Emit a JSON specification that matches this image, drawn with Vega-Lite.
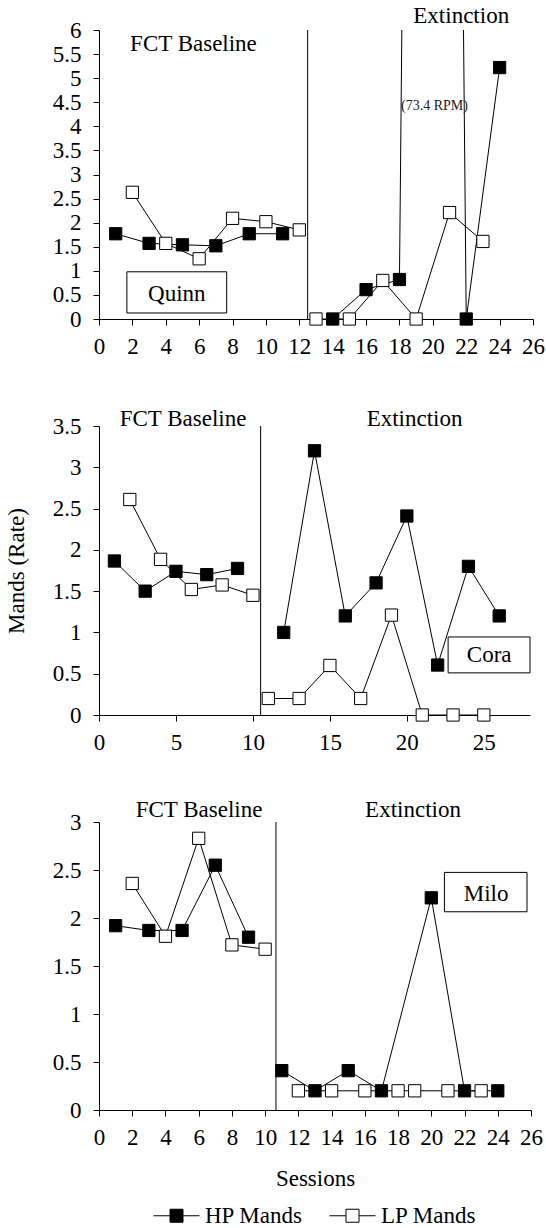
{
  "$schema": "https://vega.github.io/schema/vega-lite/v6.json",
  "background": "white",
  "padding": {"left": 5, "top": 5, "right": 0, "bottom": 0},
  "bounds": "flush",
  "spacing": 107,
  "config": {
    "font": "Liberation Serif",
    "view": {"stroke": null},
    "axis": {
      "domainColor": "black", "tickColor": "black", "labelColor": "black", "titleColor": "black",
      "labelFont": "Liberation Serif", "titleFont": "Liberation Serif",
      "labelFontSize": 23, "titleFontSize": 23, "titleFontWeight": "normal",
      "grid": false, "tickSize": 6, "labelOverlap": false, "labelFlush": false, "labelBound": false,
      "domainWidth": 1, "tickWidth": 1
    },
    "legend": {
      "layout": {"bottom": {"anchor": "middle"}},
      "labelFont": "Liberation Serif", "labelFontSize": 23, "labelColor": "black"
    }
  },
  "datasets": {
    "mands": [
      {"panel": "Quinn", "series": "HP Mands", "phase": "B", "session": 1, "value": 1.77},
      {"panel": "Quinn", "series": "HP Mands", "phase": "B", "session": 3, "value": 1.57},
      {"panel": "Quinn", "series": "HP Mands", "phase": "B", "session": 5, "value": 1.54},
      {"panel": "Quinn", "series": "HP Mands", "phase": "B", "session": 7, "value": 1.52},
      {"panel": "Quinn", "series": "HP Mands", "phase": "B", "session": 9, "value": 1.77},
      {"panel": "Quinn", "series": "HP Mands", "phase": "B", "session": 11, "value": 1.77},
      {"panel": "Quinn", "series": "HP Mands", "phase": "E", "session": 14, "value": 0},
      {"panel": "Quinn", "series": "HP Mands", "phase": "E", "session": 16, "value": 0.61},
      {"panel": "Quinn", "series": "HP Mands", "phase": "E", "session": 18, "value": 0.82},
      {"panel": "Quinn", "series": "HP Mands", "phase": "E", "session": 20, "value": 73.4},
      {"panel": "Quinn", "series": "HP Mands", "phase": "E", "session": 22, "value": 0},
      {"panel": "Quinn", "series": "HP Mands", "phase": "E", "session": 24, "value": 5.22},
      {"panel": "Quinn", "series": "LP Mands", "phase": "B", "session": 2, "value": 2.63},
      {"panel": "Quinn", "series": "LP Mands", "phase": "B", "session": 4, "value": 1.57},
      {"panel": "Quinn", "series": "LP Mands", "phase": "B", "session": 6, "value": 1.25},
      {"panel": "Quinn", "series": "LP Mands", "phase": "B", "session": 8, "value": 2.09},
      {"panel": "Quinn", "series": "LP Mands", "phase": "B", "session": 10, "value": 2.02},
      {"panel": "Quinn", "series": "LP Mands", "phase": "B", "session": 12, "value": 1.85},
      {"panel": "Quinn", "series": "LP Mands", "phase": "E", "session": 13, "value": 0},
      {"panel": "Quinn", "series": "LP Mands", "phase": "E", "session": 15, "value": 0},
      {"panel": "Quinn", "series": "LP Mands", "phase": "E", "session": 17, "value": 0.8},
      {"panel": "Quinn", "series": "LP Mands", "phase": "E", "session": 19, "value": 0},
      {"panel": "Quinn", "series": "LP Mands", "phase": "E", "session": 21, "value": 2.21},
      {"panel": "Quinn", "series": "LP Mands", "phase": "E", "session": 23, "value": 1.61},

      {"panel": "Cora", "series": "HP Mands", "phase": "B", "session": 1, "value": 1.865},
      {"panel": "Cora", "series": "HP Mands", "phase": "B", "session": 3, "value": 1.5},
      {"panel": "Cora", "series": "HP Mands", "phase": "B", "session": 5, "value": 1.74},
      {"panel": "Cora", "series": "HP Mands", "phase": "B", "session": 7, "value": 1.7},
      {"panel": "Cora", "series": "HP Mands", "phase": "B", "session": 9, "value": 1.775},
      {"panel": "Cora", "series": "HP Mands", "phase": "E", "session": 12, "value": 1.0},
      {"panel": "Cora", "series": "HP Mands", "phase": "E", "session": 14, "value": 3.2},
      {"panel": "Cora", "series": "HP Mands", "phase": "E", "session": 16, "value": 1.2},
      {"panel": "Cora", "series": "HP Mands", "phase": "E", "session": 18, "value": 1.6},
      {"panel": "Cora", "series": "HP Mands", "phase": "E", "session": 20, "value": 2.41},
      {"panel": "Cora", "series": "HP Mands", "phase": "E", "session": 22, "value": 0.605},
      {"panel": "Cora", "series": "HP Mands", "phase": "E", "session": 24, "value": 1.8},
      {"panel": "Cora", "series": "HP Mands", "phase": "E", "session": 26, "value": 1.2},
      {"panel": "Cora", "series": "LP Mands", "phase": "B", "session": 2, "value": 2.61},
      {"panel": "Cora", "series": "LP Mands", "phase": "B", "session": 4, "value": 1.885},
      {"panel": "Cora", "series": "LP Mands", "phase": "B", "session": 6, "value": 1.52},
      {"panel": "Cora", "series": "LP Mands", "phase": "B", "session": 8, "value": 1.575},
      {"panel": "Cora", "series": "LP Mands", "phase": "B", "session": 10, "value": 1.45},
      {"panel": "Cora", "series": "LP Mands", "phase": "E", "session": 11, "value": 0.2},
      {"panel": "Cora", "series": "LP Mands", "phase": "E", "session": 13, "value": 0.2},
      {"panel": "Cora", "series": "LP Mands", "phase": "E", "session": 15, "value": 0.6},
      {"panel": "Cora", "series": "LP Mands", "phase": "E", "session": 17, "value": 0.2},
      {"panel": "Cora", "series": "LP Mands", "phase": "E", "session": 19, "value": 1.21},
      {"panel": "Cora", "series": "LP Mands", "phase": "E", "session": 21, "value": 0},
      {"panel": "Cora", "series": "LP Mands", "phase": "E", "session": 23, "value": 0},
      {"panel": "Cora", "series": "LP Mands", "phase": "E", "session": 25, "value": 0},

      {"panel": "Milo", "series": "HP Mands", "phase": "B", "session": 1, "value": 1.92},
      {"panel": "Milo", "series": "HP Mands", "phase": "B", "session": 3, "value": 1.87},
      {"panel": "Milo", "series": "HP Mands", "phase": "B", "session": 5, "value": 1.87},
      {"panel": "Milo", "series": "HP Mands", "phase": "B", "session": 7, "value": 2.55},
      {"panel": "Milo", "series": "HP Mands", "phase": "B", "session": 9, "value": 1.8},
      {"panel": "Milo", "series": "HP Mands", "phase": "E", "session": 11, "value": 0.41},
      {"panel": "Milo", "series": "HP Mands", "phase": "E", "session": 13, "value": 0.2},
      {"panel": "Milo", "series": "HP Mands", "phase": "E", "session": 15, "value": 0.41},
      {"panel": "Milo", "series": "HP Mands", "phase": "E", "session": 17, "value": 0.2},
      {"panel": "Milo", "series": "HP Mands", "phase": "E", "session": 20, "value": 2.21},
      {"panel": "Milo", "series": "HP Mands", "phase": "E", "session": 22, "value": 0.2},
      {"panel": "Milo", "series": "HP Mands", "phase": "E", "session": 24, "value": 0.2},
      {"panel": "Milo", "series": "LP Mands", "phase": "B", "session": 2, "value": 2.36},
      {"panel": "Milo", "series": "LP Mands", "phase": "B", "session": 4, "value": 1.81},
      {"panel": "Milo", "series": "LP Mands", "phase": "B", "session": 6, "value": 2.83},
      {"panel": "Milo", "series": "LP Mands", "phase": "B", "session": 8, "value": 1.72},
      {"panel": "Milo", "series": "LP Mands", "phase": "B", "session": 10, "value": 1.675},
      {"panel": "Milo", "series": "LP Mands", "phase": "E", "session": 12, "value": 0.2},
      {"panel": "Milo", "series": "LP Mands", "phase": "E", "session": 14, "value": 0.2},
      {"panel": "Milo", "series": "LP Mands", "phase": "E", "session": 16, "value": 0.2},
      {"panel": "Milo", "series": "LP Mands", "phase": "E", "session": 18, "value": 0.2},
      {"panel": "Milo", "series": "LP Mands", "phase": "E", "session": 19, "value": 0.2},
      {"panel": "Milo", "series": "LP Mands", "phase": "E", "session": 21, "value": 0.2},
      {"panel": "Milo", "series": "LP Mands", "phase": "E", "session": 23, "value": 0.2}
    ],
    "phases": [
      {"panel": "Quinn", "session": 12.5},
      {"panel": "Cora", "session": 10.5},
      {"panel": "Milo", "session": 10.65}
    ],
    "boxes": [
      {"panel": "Quinn", "session": 1.67, "session2": 7.65, "value": 0.125, "value2": 0.98},
      {"panel": "Cora", "session": 22.68, "session2": 28, "value": 0.51, "value2": 0.945},
      {"panel": "Milo", "session": 20.79, "session2": 25.76, "value": 2.065, "value2": 2.475}
    ],
    "notes": [
      {"panel": "Quinn", "kind": "big", "text": "Quinn", "session": 4.66, "value": 0.37},
      {"panel": "Quinn", "kind": "big", "text": "FCT Baseline", "session": 5.66, "value": 5.57},
      {"panel": "Quinn", "kind": "big", "text": "Extinction", "session": 21.7, "value": 6.14},
      {"panel": "Quinn", "kind": "small", "text": "(73.4 RPM)", "session": 20.1, "value": 4.33},
      {"panel": "Cora", "kind": "big", "text": "Cora", "session": 25.35, "value": 0.645},
      {"panel": "Cora", "kind": "big", "text": "FCT Baseline", "session": 5.46, "value": 3.5},
      {"panel": "Cora", "kind": "big", "text": "Extinction", "session": 20.5, "value": 3.5},
      {"panel": "Milo", "kind": "big", "text": "Milo", "session": 23.3, "value": 2.18},
      {"panel": "Milo", "kind": "big", "text": "FCT Baseline", "session": 6.02, "value": 3.05},
      {"panel": "Milo", "kind": "big", "text": "Extinction", "session": 18.9, "value": 3.05}
    ]
  },
  "resolve": {"scale": {"fill": "independent"}, "legend": {"fill": "independent"}},
  "vconcat": [
    {
      "width": 434, "height": 289,
      "encoding": {
        "x": {"field": "session", "type": "quantitative", "title": null,
          "scale": {"domain": [0, 26], "nice": false, "zero": false},
          "axis": {"values": [0,2,4,6,8,10,12,14,16,18,20,22,24,26], "labelOverlap": false, "labelFlush": false, "labelBound": false, "labelPadding": 10, "tickSize": 6, "labelFontSize": 23, "labelFont": "Liberation Serif", "grid": false}},
        "y": {"field": "value", "type": "quantitative", "title": null,
          "scale": {"domain": [0, 6], "nice": false, "zero": false},
          "axis": {"values": [0,0.5,1,1.5,2,2.5,3,3.5,4,4.5,5,5.5,6], "format": "~g", "labelOverlap": false, "labelBound": false, "labelPadding": 12, "tickSize": 6, "labelFontSize": 23, "labelFont": "Liberation Serif", "grid": false}}
      },
      "layer": [
        {"data": {"name": "phases"}, "transform": [{"filter": "datum.panel === 'Quinn'"}],
         "mark": {"type": "rule", "color": "black", "strokeWidth": 1},
         "encoding": {"y": null}},
        {"data": {"name": "mands"}, "transform": [{"filter": "datum.panel === 'Quinn'"}],
         "mark": {"type": "line", "color": "black", "strokeWidth": 1, "clip": true},
         "encoding": {"detail": [{"field": "series"}, {"field": "phase"}]}},
        {"data": {"name": "boxes"}, "transform": [{"filter": "datum.panel === 'Quinn'"}],
         "mark": {"type": "rect", "fill": "white", "stroke": "black", "strokeWidth": 1},
         "encoding": {"x2": {"field": "session2"}, "y2": {"field": "value2"}}},
        {"data": {"name": "mands"}, "transform": [{"filter": "datum.panel === 'Quinn' && datum.value <= 6"}],
         "mark": {"type": "point", "shape": "square", "size": 150, "filled": true, "stroke": "black", "strokeWidth": 1, "opacity": 1},
         "encoding": {
           "fill": {"field": "series", "type": "nominal", "scale": {"domain": ["HP Mands", "LP Mands"], "range": ["black", "white"]}, "legend": null}}},
        {"data": {"name": "notes"}, "transform": [{"filter": "datum.panel === 'Quinn' && datum.kind === 'big'"}],
         "mark": {"type": "text", "font": "Liberation Serif", "fontSize": 23, "color": "black", "baseline": "alphabetic", "align": "center"},
         "encoding": {"text": {"field": "text"}}},
        {"data": {"name": "notes"}, "transform": [{"filter": "datum.panel === 'Quinn' && datum.kind === 'small'"}],
         "mark": {"type": "text", "font": "Liberation Serif", "fontSize": 14, "color": "#222222", "baseline": "alphabetic", "align": "center"},
         "encoding": {"text": {"field": "text"}}}
      ]
    },
    {
      "width": 431, "height": 289,
      "encoding": {
        "x": {"field": "session", "type": "quantitative", "title": null,
          "scale": {"domain": [0, 28], "nice": false, "zero": false},
          "axis": {"values": [0,5,10,15,20,25], "labelOverlap": false, "labelFlush": false, "labelBound": false, "labelPadding": 10, "tickSize": 6, "labelFontSize": 23, "labelFont": "Liberation Serif", "grid": false}},
        "y": {"field": "value", "type": "quantitative", "title": "Mands (Rate)",
          "scale": {"domain": [0, 3.5], "nice": false, "zero": false},
          "axis": {"values": [0,0.5,1,1.5,2,2.5,3,3.5], "format": "~g", "labelOverlap": false, "labelBound": false, "labelPadding": 12, "tickSize": 6, "labelFontSize": 23, "labelFont": "Liberation Serif", "grid": false, "titleFont": "Liberation Serif", "titleFontSize": 23, "titleFontWeight": "normal", "titlePadding": 24}}
      },
      "layer": [
        {"data": {"name": "phases"}, "transform": [{"filter": "datum.panel === 'Cora'"}],
         "mark": {"type": "rule", "color": "black", "strokeWidth": 1},
         "encoding": {"y": null}},
        {"data": {"name": "mands"}, "transform": [{"filter": "datum.panel === 'Cora'"}],
         "mark": {"type": "line", "color": "black", "strokeWidth": 1, "clip": true},
         "encoding": {"detail": [{"field": "series"}, {"field": "phase"}]}},
        {"data": {"name": "boxes"}, "transform": [{"filter": "datum.panel === 'Cora'"}],
         "mark": {"type": "rect", "fill": "white", "stroke": "black", "strokeWidth": 1},
         "encoding": {"x2": {"field": "session2"}, "y2": {"field": "value2"}}},
        {"data": {"name": "mands"}, "transform": [{"filter": "datum.panel === 'Cora'"}],
         "mark": {"type": "point", "shape": "square", "size": 150, "filled": true, "stroke": "black", "strokeWidth": 1, "opacity": 1},
         "encoding": {
           "fill": {"field": "series", "type": "nominal", "scale": {"domain": ["HP Mands", "LP Mands"], "range": ["black", "white"]}, "legend": null}}},
        {"data": {"name": "notes"}, "transform": [{"filter": "datum.panel === 'Cora'"}],
         "mark": {"type": "text", "font": "Liberation Serif", "fontSize": 23, "color": "black", "baseline": "alphabetic", "align": "center"},
         "encoding": {"text": {"field": "text"}}}
      ]
    },
    {
      "width": 432, "height": 288,
      "encoding": {
        "x": {"field": "session", "type": "quantitative", "title": "Sessions",
          "scale": {"domain": [0, 26], "nice": false, "zero": false},
          "axis": {"values": [0,2,4,6,8,10,12,14,16,18,20,22,24,26], "labelOverlap": false, "labelFlush": false, "labelBound": false, "labelPadding": 10, "tickSize": 6, "labelFontSize": 23, "labelFont": "Liberation Serif", "grid": false, "titleFont": "Liberation Serif", "titleFontSize": 23, "titleFontWeight": "normal", "titlePadding": 18}},
        "y": {"field": "value", "type": "quantitative", "title": null,
          "scale": {"domain": [0, 3], "nice": false, "zero": false},
          "axis": {"values": [0,0.5,1,1.5,2,2.5,3], "format": "~g", "labelOverlap": false, "labelBound": false, "labelPadding": 12, "tickSize": 6, "labelFontSize": 23, "labelFont": "Liberation Serif", "grid": false}}
      },
      "layer": [
        {"data": {"name": "phases"}, "transform": [{"filter": "datum.panel === 'Milo'"}],
         "mark": {"type": "rule", "color": "black", "strokeWidth": 1},
         "encoding": {"y": null}},
        {"data": {"name": "mands"}, "transform": [{"filter": "datum.panel === 'Milo'"}],
         "mark": {"type": "line", "color": "black", "strokeWidth": 1, "clip": true},
         "encoding": {"detail": [{"field": "series"}, {"field": "phase"}]}},
        {"data": {"name": "boxes"}, "transform": [{"filter": "datum.panel === 'Milo'"}],
         "mark": {"type": "rect", "fill": "white", "stroke": "black", "strokeWidth": 1},
         "encoding": {"x2": {"field": "session2"}, "y2": {"field": "value2"}}},
        {"data": {"name": "mands"}, "transform": [{"filter": "datum.panel === 'Milo'"}],
         "mark": {"type": "point", "shape": "square", "size": 150, "filled": true, "stroke": "black", "strokeWidth": 1, "opacity": 1},
         "encoding": {
           "fill": {"field": "series", "type": "nominal", "scale": {"domain": ["HP Mands", "LP Mands"], "range": ["black", "white"]},
             "legend": {"orient": "bottom", "direction": "horizontal", "title": null,
               "symbolType": "M-1,0H-0.283M0.283,0H1M-0.283,-0.283H0.283V0.283H-0.283Z",
               "symbolSize": 2116, "symbolStrokeColor": "black", "symbolStrokeWidth": 1, "symbolOpacity": 1,
               "labelFont": "Liberation Serif", "labelFontSize": 23, "labelColor": "black",
               "labelOffset": 5, "columnPadding": 24, "padding": 0, "offset": 2, "labelLimit": 0}}}},
        {"data": {"name": "notes"}, "transform": [{"filter": "datum.panel === 'Milo'"}],
         "mark": {"type": "text", "font": "Liberation Serif", "fontSize": 23, "color": "black", "baseline": "alphabetic", "align": "center"},
         "encoding": {"text": {"field": "text"}}}
      ]
    }
  ]
}
